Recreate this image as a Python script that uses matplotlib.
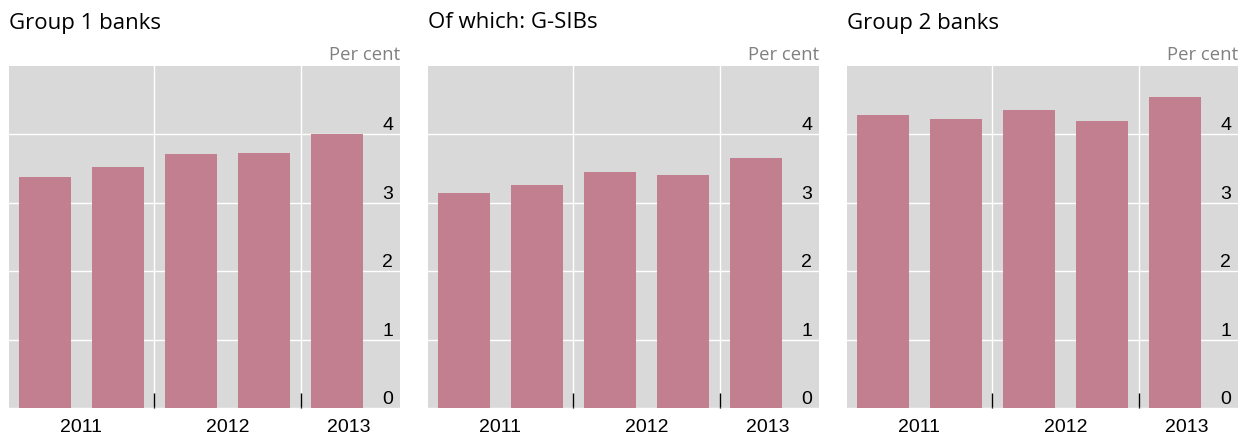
import matplotlib.pyplot as plt

# bar values (per cent)
titles = ["Group 1 banks", "Of which: G-SIBs", "Group 2 banks"]
group1 = [3.38, 3.53, 3.72, 3.73, 4.01]
gsibs = [3.14, 3.26, 3.45, 3.40, 3.66]
group2 = [4.28, 4.22, 4.35, 4.20, 4.54]
years = ["2011", "2012", "2013"]
year_pos = [0.5, 2.5, 4.16]
separators = [1.5, 3.5]
yticks = [0, 1, 2, 3, 4]

bar_color = "#c27f8f"
bg = "#d9d9d9"

fig = plt.figure(figsize=(12.5, 4.37), dpi=100)
lefts = [9 / 1250, 428 / 1250, 847 / 1250]
w = 391 / 1250
b = 1 - 408 / 437
h = (408 - 66) / 437

for left, title, vals in zip(lefts, titles, [group1, gsibs, group2]):
    ax = fig.add_axes([left, b, w, h])
    ax.set_facecolor(bg)
    ax.bar(range(len(vals)), vals, width=0.71, color=bar_color, zorder=2)
    ax.set_xlim(-0.49, 4.86)
    ax.set_ylim(0, 5)
    for s in ax.spines.values():
        s.set_visible(False)

    ax.set_yticks(yticks)
    ax.yaxis.set_ticks_position("right")
    ax.tick_params(axis="y", length=0, pad=-5, labelsize=14)
    for lab in ax.get_yticklabels():
        lab.set_ha("right")
        lab.set_va("bottom")
        lab.set_family("Liberation Sans")
    ax.grid(axis="y", color="white", linewidth=1.0, zorder=1)

    ax.set_xticks(separators)
    ax.set_xticklabels([])
    ax.tick_params(axis="x", which="major", direction="in", length=11,
                   width=1, color="black")
    ax.set_xticks(year_pos, minor=True)
    ax.set_xticklabels(years, minor=True, fontsize=14, family="Liberation Sans")
    ax.tick_params(axis="x", which="minor", length=0, pad=8)
    ax.grid(axis="x", which="major", color="white", linewidth=1.0, zorder=1)
    ax.set_axisbelow(True)

    ax.set_title(title, loc="left", fontsize=16, family="Open Sans", pad=27, x=0)
    ax.text(1, 1.006, "Per cent", transform=ax.transAxes, ha="right", va="bottom",
            fontsize=13.3, color="#808080", family="Open Sans")

fig.savefig("out.png", dpi=100)
